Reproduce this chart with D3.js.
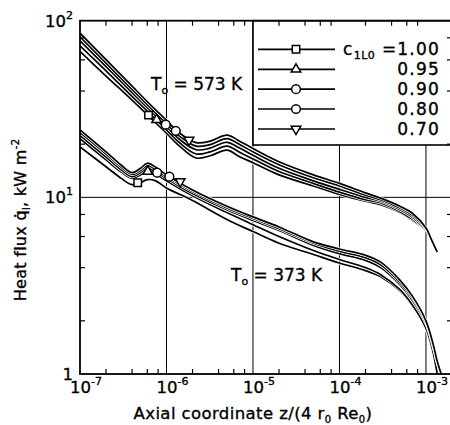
<!DOCTYPE html>
<html>
<head>
<meta charset="utf-8">
<script src="https://d3js.org/d3.v7.min.js"></script>
<style>
  body { margin: 0; background: #fff; }
  text { font-family: "DejaVu Sans", sans-serif; fill: #000; stroke: #000; stroke-width: 0.35px; }
</style>
</head>
<body>
<svg id="chart" width="450" height="425"></svg>
<script>
// ---- data ----
const cLabels = ["1.00", "0.95", "0.90", "0.80", "0.70"];

// T0 = 573 K group
const zUpper = [1e-7, 2e-7, 4e-7, 7e-7, 1e-6, 1.4e-6, 2.2e-6, 3.2e-6, 5e-6, 7e-6, 1e-5,
                2e-5, 5e-5, 1e-4, 2e-4, 3e-4, 5e-4, 7e-4, 1e-3, 1.15e-3, 1.35e-3];
const upper070 = [85, 60.2, 42.6, 32.3, 27.3, 23.2, 20.4, 20.8, 22.5, 20.8, 18.9,
                  15.9, 13.4, 12.0, 10.6, 9.9, 8.9, 8.1, 6.7, 5.8, 4.9];
const upper080 = [81, 57.5, 40.8, 31.0, 26.2, 22.3, 19.5, 19.9, 21.5, 19.9, 18.1,
                  15.3, 12.9, 11.6, 10.3, 9.7, 8.7, 7.9, 6.6, 5.8, 5.0];
const upper090 = [77, 55.0, 39.2, 29.9, 25.2, 21.4, 18.6, 19.0, 20.5, 19.0, 17.3,
                  14.6, 12.4, 11.1, 10.0, 9.5, 8.5, 7.7, 6.5, null, null];
const upper095 = [72, 52.0, 37.3, 28.6, 24.1, 20.5, 17.6, 18.1, 19.5, 18.0, 16.5,
                  14.0, 12.0, 10.7, 9.7, 9.3, 8.3, 7.5, 6.5, null, null];
const upper100 = [67, 48.6, 35.5, 27.3, 23.1, 19.6, 16.7, 17.2, 18.5, 17.0, 15.7,
                  13.4, 11.6, 10.4, 9.5, 9.1, 8.2, 7.4, 6.5, null, null];

// T0 = 373 K group
const zLower = [1e-7, 2e-7, 3e-7, 4e-7, 5e-7, 6e-7, 7.5e-7, 1e-6, 2e-6, 5e-6, 1e-5,
                2e-5, 5e-5, 1e-4, 2e-4, 3e-4, 5e-4, 7e-4, 1e-3, 1.2e-3, 1.35e-3, 1.5e-3];
const lower070 = [24.1, 18.1, 15.2, 13.8, 14.6, 15.6, 14.8, 13.4, 11.0, 8.9, 7.75,
                  6.8, 5.6, 5.1, 4.7, 4.3, 3.4, 2.75, 2.0, 1.5, 1.18, 1.0];
const lower080 = [23.3, 17.6, 14.8, 13.5, 14.2, 15.1, 14.4, 13.1, 10.8, 8.7, 7.6,
                  6.65, 5.5, 4.95, 4.55, 4.15, 3.3, 2.68, 1.97, 1.48, 1.17, 1.0];
const lower090 = [22.4, 16.9, 14.3, 13.1, 13.8, 14.6, 14.0, 12.8, 10.5, 8.5, 7.4,
                  6.5, 5.35, 4.8, 4.4, 4.0, 3.2, 2.6, 1.93, 1.46, 1.16, 1.0];
const lower095 = [21.5, 16.3, 13.9, 12.8, 13.4, 14.1, 13.6, 12.4, 10.2, 8.2, 7.0,
                  6.0, 5.0, 4.45, 4.0, 3.65, 3.0, 2.45, 1.82, 1.35, 1.0, null];
const lower100 = [19.3, 14.9, 12.8, 11.8, 12.1, 12.6, 12.4, 11.3, 9.6, 7.5, 6.4,
                  5.5, 4.75, 4.25, 3.85, 3.55, 2.95, 2.42, 1.8, 1.33, 1.0, null];

// marker positions (order = cLabels)
const markUpperZ = [6.2e-7, 7.7e-7, 9.8e-7, 1.28e-6, 1.82e-6];
const markUpperQ = [29.2, 27.5, 25.8, 23.8, 21.1];
const markLowerZ = [4.65e-7, 6.07e-7, 7.8e-7, 1.08e-6, 1.44e-6];
const markLowerQ = [12.1, 14.0, 13.8, 13.1, 12.3];

const xMajor = [1e-7, 1e-6, 1e-5, 1e-4, 1e-3];
const xMajorExp = ["-7", "-6", "-5", "-4", "-3"];
const yMajor = [1, 10, 100];
const minorMult = [2, 4, 6, 8];

// ---- setup ----
const svg = d3.select("#chart");
const pLeft = 80, pRight = 452, pTop = 20.7, pBottom = 374;

const x = d3.scaleLog().domain([1e-7, 2e-3]).range([pLeft, pRight]);
const y = d3.scaleLog().domain([1, 100]).range([pBottom, pTop]);

svg.append("rect").attr("width", 450).attr("height", 425).attr("fill", "#fff");

svg.append("defs").append("clipPath").attr("id", "plotclip")
  .append("rect").attr("x", pLeft).attr("y", pTop)
  .attr("width", pRight - pLeft).attr("height", pBottom - pTop);

// grid lines
const grid = svg.append("g").attr("stroke", "#000").attr("stroke-width", 1);
xMajor.slice(1).forEach(v => {
  grid.append("line").attr("x1", x(v)).attr("x2", x(v)).attr("y1", pTop).attr("y2", pBottom);
});
grid.append("line").attr("x1", pLeft).attr("x2", pRight).attr("y1", y(10)).attr("y2", y(10));

// curves
const line = d3.line()
  .defined(d => d[1] != null)
  .x(d => x(d[0])).y(d => y(d[1]))
  .curve(d3.curveCatmullRom.alpha(0.5));

const upperSeries = [upper100, upper095, upper090, upper080, upper070];
const lowerSeries = [lower100, lower095, lower090, lower080, lower070];

const curves = svg.append("g").attr("clip-path", "url(#plotclip)");
function drawGroup(zs, series) {
  series.forEach(vals => {
    const pts = zs.map((z, i) => [z, vals[i]]);
    curves.append("path").attr("d", line(pts))
      .attr("fill", "none").attr("stroke", "#fff").attr("stroke-width", 3.2);
    curves.append("path").attr("d", line(pts))
      .attr("fill", "none").attr("stroke", "#000").attr("stroke-width", 1.7);
  });
}
drawGroup(zLower, lowerSeries);
drawGroup(zUpper, upperSeries);

// legend box (covers grid)
const legX = x(1e-5), legBottom = 145;
svg.append("rect").attr("x", legX).attr("y", pTop)
  .attr("width", 470 - legX).attr("height", legBottom - pTop)
  .attr("fill", "#fff").attr("stroke", "#000").attr("stroke-width", 1.6);

// markers
const symbolTypes = [d3.symbolSquare, d3.symbolTriangle, d3.symbolCircle, d3.symbolCircle, d3.symbolTriangle];
const symbolRot = [0, 0, 0, 0, 180];
const symbolSize = [55, 40, 60, 60, 40];
function marker(g, i, px, py) {
  g.append("path")
    .attr("d", d3.symbol().type(symbolTypes[i]).size(symbolSize[i])())
    .attr("transform", `translate(${px},${py}) rotate(${symbolRot[i]})`)
    .attr("fill", "#fff").attr("stroke", "#000").attr("stroke-width", 1.5);
}
const marks = svg.append("g");
cLabels.forEach((c, i) => {
  marker(marks, i, x(markUpperZ[i]), y(markUpperQ[i]));
  marker(marks, i, x(markLowerZ[i]), y(markLowerQ[i]));
});

// legend entries
const legRows = [49.3, 69.3, 89.2, 109, 129];
const leg = svg.append("g");
cLabels.forEach((c, i) => {
  const ry = legRows[i];
  leg.append("line").attr("x1", 258).attr("x2", 335).attr("y1", ry).attr("y2", ry)
    .attr("stroke", "#000").attr("stroke-width", 1.7);
  marker(leg, i, 296, ry);
  const t = leg.append("text").attr("x", 440).attr("y", ry + 6)
    .attr("text-anchor", "end").attr("font-size", 17).attr("letter-spacing", 1.2);
  if (i === 0) {
    t.append("tspan").text("c");
    t.append("tspan").attr("font-size", 11).attr("dy", 4).attr("letter-spacing", 0.5).text("1L0");
    t.append("tspan").attr("dy", -4).text(" =" + c);
  } else {
    t.text(c);
  }
});

// frame
svg.append("rect").attr("x", pLeft).attr("y", pTop)
  .attr("width", pRight - pLeft).attr("height", pBottom - pTop)
  .attr("fill", "none").attr("stroke", "#000").attr("stroke-width", 1.8);

// minor ticks
const ticks = svg.append("g").attr("stroke", "#000").attr("stroke-width", 1.2);
for (let d = -7; d <= -3; d++) {
  minorMult.forEach(m => {
    const v = m * Math.pow(10, d);
    if (v > 2e-3) return;
    ticks.append("line").attr("x1", x(v)).attr("x2", x(v)).attr("y1", pBottom).attr("y2", pBottom - 5);
    ticks.append("line").attr("x1", x(v)).attr("x2", x(v)).attr("y1", pTop).attr("y2", pTop + 5);
  });
}
for (let d = 0; d <= 1; d++) {
  minorMult.forEach(m => {
    const v = m * Math.pow(10, d);
    ticks.append("line").attr("x1", pLeft).attr("x2", pLeft + 5).attr("y1", y(v)).attr("y2", y(v));
    ticks.append("line").attr("x1", pRight).attr("x2", pRight - 5).attr("y1", y(v)).attr("y2", y(v));
  });
}

// x tick labels
xMajor.forEach((v, i) => {
  const t = svg.append("text").attr("x", x(v) - 10).attr("y", 393).attr("font-size", 16.5);
  t.append("tspan").text("10");
  t.append("tspan").attr("font-size", 11).attr("dy", -8).text(xMajorExp[i]);
});

// y tick labels
yMajor.forEach(v => {
  const t = svg.append("text").attr("x", 73).attr("y", y(v) + 6)
    .attr("text-anchor", "end").attr("font-size", 16.5);
  if (v === 1) { t.text("1"); return; }
  t.append("tspan").text("10");
  t.append("tspan").attr("font-size", 11).attr("dy", -8).text(v === 10 ? "1" : "2");
});

// axis titles
const xt = svg.append("text").attr("x", 253).attr("y", 419)
  .attr("text-anchor", "middle").attr("font-size", 16.5).attr("letter-spacing", 0.4);
xt.append("tspan").text("Axial coordinate  z/(4 r");
xt.append("tspan").attr("font-size", 10).attr("dy", 4).text("0");
xt.append("tspan").attr("dy", -4).text(" Re");
xt.append("tspan").attr("font-size", 10).attr("dy", 4).text("0");
xt.append("tspan").attr("dy", -4).text(")");

const yt = svg.append("text").attr("transform", "translate(26,220) rotate(-90)")
  .attr("text-anchor", "middle").attr("font-size", 16).attr("letter-spacing", 0.3);
yt.append("tspan").text("Heat flux  q\u0307");
yt.append("tspan").attr("font-size", 10).attr("dy", 4).text("l");
yt.append("tspan").attr("dy", -4).text(",  kW m");
yt.append("tspan").attr("font-size", 10).attr("dy", -7).text("-2");

// annotations
function tLabel(px, py, val) {
  const t = svg.append("text").attr("x", px).attr("y", py).attr("font-size", 17);
  t.append("tspan").text("T");
  t.append("tspan").attr("font-size", 11).attr("dy", 4).text("o");
  t.append("tspan").attr("dy", -4).text(" = " + val + " K");
}
tLabel(151, 90, 573);
tLabel(231, 281, 373);
</script>
</body>
</html>
